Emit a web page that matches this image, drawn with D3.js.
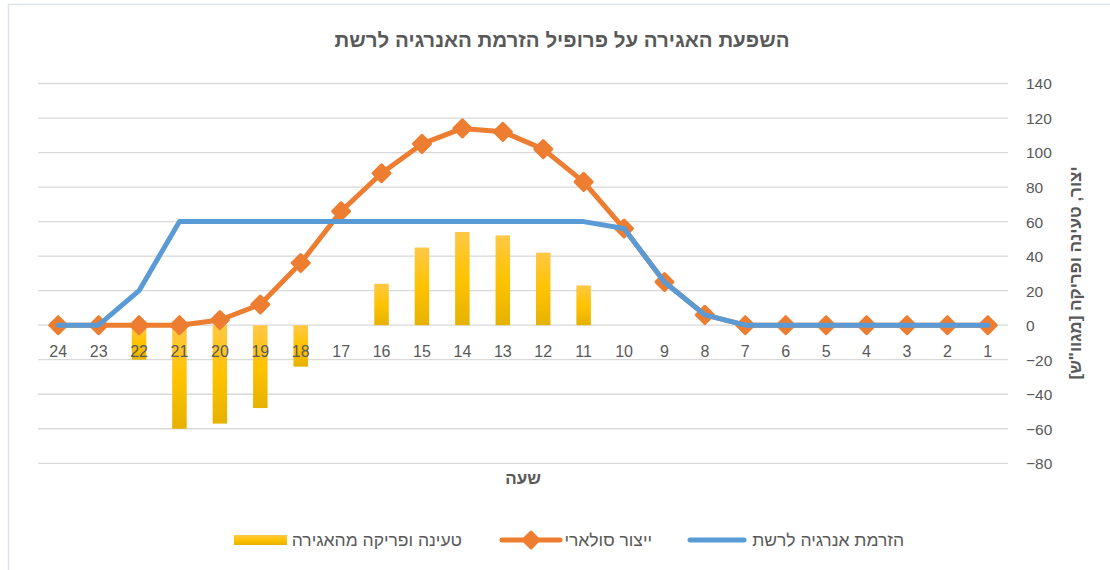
<!DOCTYPE html>
<html lang="he">
<head>
<meta charset="utf-8">
<script src="https://cdn.jsdelivr.net/npm/d3@7"></script>
<style>
  html, body { margin: 0; padding: 0; background: #fff; }
  svg { display: block; font-family: "Liberation Sans", "DejaVu Sans", Arial, sans-serif; }
</style>
</head>
<body>
<svg id="chart" width="1110" height="570"></svg>
<script>
const hours   = [24, 23, 22, 21, 20, 19, 18, 17, 16, 15, 14, 13, 12, 11, 10, 9, 8, 7, 6, 5, 4, 3, 2, 1];
const solar   = [0, 0, 0, 0, 3, 12, 36, 66, 88, 105, 114, 112, 102, 83, 56, 25, 6, 0, 0, 0, 0, 0, 0, 0];
const storage = [0, 0, -20, -60, -57, -48, -24, 0, 24, 45, 54, 52, 42, 23, 0, 0, 0, 0, 0, 0, 0, 0, 0, 0];
const gridInj = [0, 0, 20, 60, 60, 60, 60, 60, 60, 60, 60, 60, 60, 60, 56, 25, 6, 0, 0, 0, 0, 0, 0, 0];
const yTicks  = [-80, -60, -40, -20, 0, 20, 40, 60, 80, 100, 120, 140];

const titleText  = "השפעת האגירה על פרופיל הזרמת האנרגיה לרשת";
const xTitleText = "שעה";
const yTitleText = "יצור, טעינה ופריקה [מגוו\"ש]";
const seriesNames = ["הזרמת אנרגיה לרשת", "ייצור סולארי", "טעינה ופריקה מהאגירה"];

const svg = d3.select("#chart");
const textColor = "#595959";
const gridColor = "#D9D9D9";
const blue = "#5B9BD5", orange = "#ED7D31";

// chart border (partially cropped)
svg.append("path").attr("d", "M8.5,570 V4.5 H1110")
  .attr("fill", "none").attr("stroke", "#DEE3E8").attr("stroke-width", 1.5);

const x = d3.scaleBand().domain(hours).range([38, 1008]).paddingInner(0).paddingOuter(0);
const y = d3.scaleLinear().domain([-80, 140]).range([463.3, 83.5]);

// gradient for bars
const defs = svg.append("defs");
const grad = defs.append("linearGradient").attr("id", "barGrad")
  .attr("x1", 0).attr("y1", 0).attr("x2", 0).attr("y2", 1);
grad.append("stop").attr("offset", "0%").attr("stop-color", "#FFC845");
grad.append("stop").attr("offset", "50%").attr("stop-color", "#FFC300");
grad.append("stop").attr("offset", "100%").attr("stop-color", "#E6B200");

// gridlines
svg.append("g").selectAll("line").data(yTicks).join("line")
  .attr("x1", 38).attr("x2", 1008)
  .attr("y1", d => y(d)).attr("y2", d => y(d))
  .attr("stroke", gridColor).attr("stroke-width", 1.3);

// y axis labels (right)
const yAxis = d3.axisRight(y).tickValues(yTicks).tickSize(0).tickPadding(0);
const yG = svg.append("g").attr("transform", "translate(1026,0)").call(yAxis);
yG.select(".domain").remove();
yG.selectAll("text").attr("fill", textColor).style("font-size", "15.5px")
  .attr("text-anchor", "start").attr("dy", "0.35em");

// bars
const barW = 14.5;
svg.append("g").selectAll("rect").data(hours.map((h, i) => ({h, v: storage[i]})).filter(d => d.v !== 0))
  .join("rect")
  .attr("x", d => x(d.h) + x.bandwidth() / 2 - barW / 2)
  .attr("width", barW)
  .attr("y", d => y(Math.max(0, d.v)))
  .attr("height", d => Math.abs(y(d.v) - y(0)))
  .attr("fill", "url(#barGrad)");

// x axis labels (drawn over bars)
const xAxis = d3.axisBottom(x).tickSize(0).tickPadding(0);
const xG = svg.append("g").attr("transform", `translate(0,${y(0)})`).call(xAxis);
xG.select(".domain").remove();
xG.selectAll("text").attr("fill", textColor).style("font-size", "16px").attr("y", 26).attr("dy", "0.35em");

// solar line
const cx = h => x(h) + x.bandwidth() / 2;
const line = d3.line().x(d => cx(d.h)).y(d => y(d.v));
const solarData = hours.map((h, i) => ({h, v: solar[i]}));
svg.append("path").datum(solarData).attr("d", line)
  .attr("fill", "none").attr("stroke", orange).attr("stroke-width", 5)
  .attr("stroke-linejoin", "round").attr("stroke-linecap", "round");
const diamond = s => `M0,${-s} L${s},0 L0,${s} L${-s},0 Z`;
svg.append("g").selectAll("path").data(solarData).join("path")
  .attr("transform", d => `translate(${cx(d.h)},${y(d.v)})`)
  .attr("d", diamond(8.5))
  .attr("fill", orange).attr("stroke", orange).attr("stroke-width", 3).attr("stroke-linejoin", "round");

// grid injection line
const gridData = hours.map((h, i) => ({h, v: gridInj[i]}));
svg.append("path").datum(gridData).attr("d", line)
  .attr("fill", "none").attr("stroke", blue).attr("stroke-width", 5)
  .attr("stroke-linejoin", "round").attr("stroke-linecap", "round");

// title
svg.append("text").attr("x", 562).attr("y", 47).attr("text-anchor", "middle")
  .attr("direction", "rtl")
  .attr("fill", textColor).style("font-size", "20.5px").style("font-weight", "bold")
  .text(titleText);

// x axis title
svg.append("text").attr("x", 523).attr("y", 484).attr("text-anchor", "middle")
  .attr("fill", textColor).style("font-size", "17px").style("font-weight", "bold")
  .text(xTitleText);

// y axis title
svg.append("text").attr("transform", "translate(1081,273) rotate(-90)")
  .attr("text-anchor", "middle").attr("direction", "rtl")
  .attr("fill", textColor).style("font-size", "17px").style("font-weight", "bold")
  .text(yTitleText);

// legend
const ly = 540;
const leg = svg.append("g");
// grid injection
leg.append("line").attr("x1", 690).attr("x2", 744).attr("y1", ly).attr("y2", ly)
  .attr("stroke", blue).attr("stroke-width", 5).attr("stroke-linecap", "round");
leg.append("text").attr("x", 904).attr("y", ly).attr("dy", "0.35em").attr("text-anchor", "start")
  .attr("direction", "rtl").attr("fill", textColor).style("font-size", "17.5px").text(seriesNames[0]);
// solar
leg.append("line").attr("x1", 502).attr("x2", 560).attr("y1", ly).attr("y2", ly)
  .attr("stroke", orange).attr("stroke-width", 5).attr("stroke-linecap", "round");
leg.append("path").attr("transform", `translate(531,${ly})`).attr("d", diamond(8))
  .attr("fill", orange).attr("stroke", orange).attr("stroke-width", 3).attr("stroke-linejoin", "round");
leg.append("text").attr("x", 652).attr("y", ly).attr("dy", "0.35em").attr("text-anchor", "start")
  .attr("direction", "rtl").attr("fill", textColor).style("font-size", "17.5px").text(seriesNames[1]);
// storage
leg.append("rect").attr("x", 234).attr("y", ly - 5).attr("width", 53).attr("height", 10)
  .attr("fill", "url(#barGrad)");
leg.append("text").attr("x", 462).attr("y", ly).attr("dy", "0.35em").attr("text-anchor", "start")
  .attr("direction", "rtl").attr("fill", textColor).style("font-size", "17.5px").text(seriesNames[2]);
</script>
</body>
</html>
